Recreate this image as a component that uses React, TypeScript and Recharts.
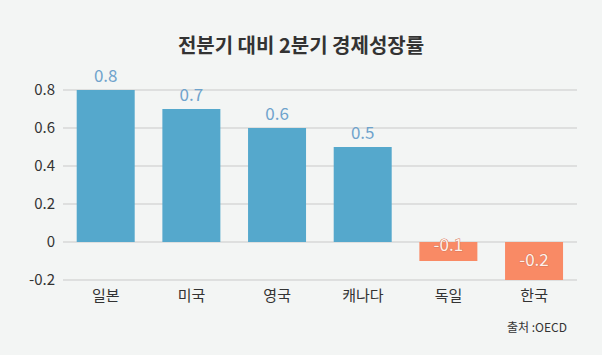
import { BarChart, Bar, XAxis, YAxis, CartesianGrid, Cell, LabelList } from 'recharts';

const countries = ['일본', '미국', '영국', '캐나다', '독일', '한국'];
const growth = [0.8, 0.7, 0.6, 0.5, -0.1, -0.2];
const yTicks = [-0.2, 0, 0.2, 0.4, 0.6, 0.8];

const data = countries.map((name, i) => ({ name, value: growth[i] }));

const FONT = '"Noto Sans CJK KR", "Noto Sans", sans-serif';
const BLUE = '#55a8cc';
const SALMON = '#f98a65';

const renderLabel = (props: any) => {
  const { x, y, width, height, value } = props;
  const cx = x + width / 2;
  if (value >= 0) {
    return (
      <text x={cx} y={y - 8} textAnchor="middle" fontSize={17} fill="#6fa3cc" fontFamily={FONT}>
        {value}
      </text>
    );
  }
  // negative bars: label sits inside the bar, nearer the zero line on short bars
  const h = Math.abs(height);
  const top = Math.min(y, y + height);
  return (
    <text
      x={cx}
      y={top + h * 0.79 - 6}
      textAnchor="middle"
      fontSize={17}
      fill="#fff1ea"
      stroke="#d9775a"
      strokeWidth={1}
      paintOrder="stroke"
      fontFamily={FONT}
    >
      {value}
    </text>
  );
};

export default function App() {
  return (
    <div
      style={{
        position: 'absolute',
        left: 0,
        top: 0,
        width: 602,
        height: 355,
        background: '#f3f5f4',
        fontFamily: FONT,
      }}
    >
      <div
        style={{
          position: 'absolute',
          top: 30,
          width: 602,
          textAlign: 'center',
          fontSize: 20,
          fontWeight: 700,
          color: '#333',
          lineHeight: '30px',
        }}
      >
        전분기 대비 2분기 경제성장률
      </div>
      <BarChart
        width={602}
        height={355}
        data={data}
        margin={{ top: 90, right: 25, bottom: 45, left: 0 }}
        barCategoryGap="16%"
      >
        <CartesianGrid vertical={false} stroke="#c9c9c9" />
        <XAxis
          dataKey="name"
          height={30}
          axisLine={false}
          tickLine={false}
          tick={{ fill: '#333', fontSize: 15, fontFamily: FONT }}
          dy={2}
        />
        <YAxis
          width={63}
          domain={[-0.2, 0.8]}
          ticks={yTicks}
          axisLine={false}
          tickLine={false}
          tick={{ fill: '#333', fontSize: 15, fontFamily: FONT }}
          tickFormatter={(v: number) => (v === 0 ? '0' : v.toFixed(1))}
        />
        <Bar dataKey="value" isAnimationActive={false}>
          {data.map((d) => (
            <Cell key={d.name} fill={d.value >= 0 ? BLUE : SALMON} />
          ))}
          <LabelList dataKey="value" content={renderLabel} />
        </Bar>
      </BarChart>
      <div
        style={{
          position: 'absolute',
          top: 318,
          right: 35,
          fontSize: 12,
          color: '#333',
          lineHeight: '18px',
        }}
      >
        출처 :OECD
      </div>
    </div>
  );
}
